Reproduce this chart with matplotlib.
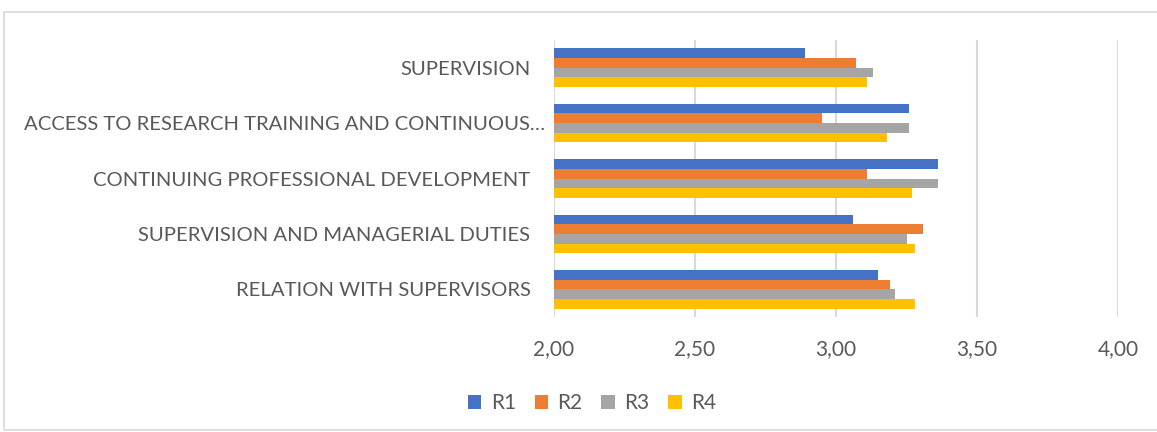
import matplotlib
matplotlib.use("Agg")
import matplotlib.pyplot as plt
from matplotlib.patches import Rectangle
from matplotlib.transforms import ScaledTranslation

# categories, top to bottom as shown
categories = [
    "SUPERVISION",
    "ACCESS TO RESEARCH TRAINING AND CONTINUOUS\u2026",
    "CONTINUING PROFESSIONAL DEVELOPMENT",
    "SUPERVISION AND MANAGERIAL DUTIES",
    "RELATION WITH SUPERVISORS",
]
series_names = ["R1", "R2", "R3", "R4"]
r1 = [2.89, 3.26, 3.36, 3.06, 3.15]
r2 = [3.07, 2.95, 3.11, 3.31, 3.19]
r3 = [3.13, 3.26, 3.36, 3.25, 3.21]
r4 = [3.11, 3.18, 3.27, 3.28, 3.28]
xticks = [2.0, 2.5, 3.0, 3.5, 4.0]
xtick_labels = ["2,00", "2,50", "3,00", "3,50", "4,00"]

colors = ["#4472C4", "#ED7D31", "#A5A5A5", "#FFC000"]
text_color = "#595959"

plt.rcParams['font.family'] = ['Lato', 'DejaVu Sans']

fig = plt.figure(figsize=(11.57, 4.32), dpi=100)
# outer chart border
fig.patches.append(Rectangle((4 / 1157, 0.005), 1.2, 1 - 12 / 432 - 0.005,
                             transform=fig.transFigure, fill=False,
                             edgecolor="#d9d9d9", linewidth=1.2))

ax = fig.add_axes([554 / 1157, 1 - 317 / 432, (1118 - 554) / 1157, (317 - 40) / 432])

h = 0.175
ypos = list(range(len(categories)))
for k, (name, vals) in enumerate(zip(series_names, [r1, r2, r3, r4])):
    offs = (k - 1.5) * h
    ax.barh([y + offs for y in ypos], [v - 2.0 for v in vals], left=2.0,
            height=h, color=colors[k], label=name, zorder=3)

ax.set_xlim(2.0, 4.0)
ax.set_ylim(len(categories) - 0.5, -0.5)
ax.set_xticks(xticks)
ax.set_xticklabels(xtick_labels)
ax.set_yticks(ypos)
ax.set_yticklabels(categories)
ax.tick_params(axis='x', length=0, pad=16, labelsize=15, labelcolor=text_color)
ax.tick_params(axis='y', length=0, pad=17, labelsize=14.6, labelcolor=text_color)
ax.grid(axis='x', color="#d9d9d9", linewidth=1.5, zorder=0)
for s in ax.spines.values():
    s.set_visible(False)

# the truncated label sits a bit closer to the axis, like Excel does it
lbl = ax.get_yticklabels()[1]
lbl.set_transform(lbl.get_transform() + ScaledTranslation(15 / 100, 0, fig.dpi_scale_trans))

ax.legend(loc="center", bbox_to_anchor=(592 / 1157, 1 - 403 / 432),
          bbox_transform=fig.transFigure, ncol=4, frameon=False,
          fontsize=15, labelcolor=text_color, handlelength=0.65,
          handleheight=0.65, handletextpad=0.45, columnspacing=0.9)

fig.savefig("out.png", dpi=100, facecolor="white")
